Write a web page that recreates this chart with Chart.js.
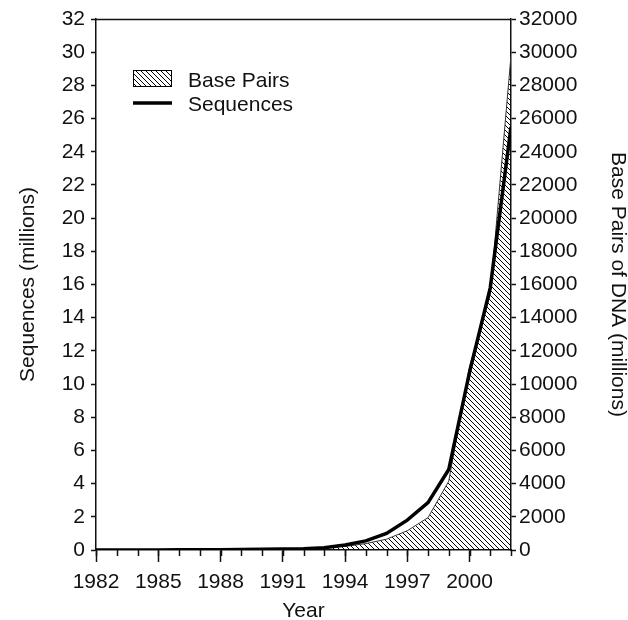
<!DOCTYPE html>
<html>
  <head>
    <meta charset="UTF-8">
    <title>GenBank Growth</title>
    <script src="https://cdn.jsdelivr.net/npm/chart.js"></script>
    <style>
      body { margin: 0; background: white; }
      #wrap { width: 628px; height: 620px; }
    </style>
  </head>
  <body>
    <div id="wrap"><canvas id="myChart"></canvas></div>

    <script>
      // data (millions)
      const years = [1982, 1983, 1984, 1985, 1986, 1987, 1988, 1989, 1990, 1991, 1992,
                     1993, 1994, 1995, 1996, 1997, 1998, 1999, 2000, 2001, 2002];
      const sequences = [0.0006, 0.0024, 0.0042, 0.0057, 0.010, 0.015, 0.021, 0.029, 0.040, 0.056, 0.079,
                         0.14, 0.3, 0.55, 1.0, 1.8, 2.85, 4.85, 10.7, 15.8, 25.5];
      const basePairs = [0.7, 2.3, 3.4, 5.2, 9.6, 15.5, 23.8, 34.8, 49.2, 71.9, 101,
                         157, 217, 385, 652, 1160, 1950, 4150, 11050, 15400, 29800];
      const xTicks = [1982, 1985, 1988, 1991, 1994, 1997, 2000];
      const seqTicks = [0, 2, 4, 6, 8, 10, 12, 14, 16, 18, 20, 22, 24, 26, 28, 30, 32];
      const bpTicks = [0, 2000, 4000, 6000, 8000, 10000, 12000, 14000, 16000, 18000, 20000,
                       22000, 24000, 26000, 28000, 30000, 32000];

      const FONT = "'Liberation Sans', Arial, sans-serif";
      const INK = '#111';

      function makeHatch() {
        const s = 5;
        const c = document.createElement('canvas');
        c.width = s; c.height = s;
        const g = c.getContext('2d');
        g.strokeStyle = '#000';
        g.lineWidth = 1;
        g.beginPath();
        g.moveTo(0, 0); g.lineTo(s, s);
        g.moveTo(-1, s - 1); g.lineTo(1, s + 1);
        g.moveTo(s - 1, -1); g.lineTo(s + 1, 1);
        g.stroke();
        return g.createPattern(c, 'repeat');
      }
      const hatch = makeHatch();

      // minor ticks on x, top frame line, legend inside plot
      const extras = {
        id: 'extras',
        afterDraw(chart) {
          const ctx = chart.ctx;
          const a = chart.chartArea;
          const x = chart.scales.x;
          ctx.save();
          ctx.strokeStyle = INK;
          ctx.lineWidth = 1.5;
          ctx.beginPath();
          years.forEach(function(yr) {
            const px = Math.round(x.getPixelForValue(yr)) + 0.5;
            ctx.moveTo(px, a.bottom);
            ctx.lineTo(px, a.bottom + 6);
          });
          ctx.moveTo(a.left, a.top + 0.5);
          ctx.lineTo(a.right, a.top + 0.5);
          ctx.stroke();

          // legend
          const ds = chart.data.datasets;
          ctx.fillStyle = hatch;
          ctx.fillRect(133, 70, 39, 17);
          ctx.lineWidth = 1;
          ctx.strokeStyle = '#000';
          ctx.strokeRect(133.5, 70.5, 38, 16);
          ctx.lineWidth = 3.5;
          ctx.beginPath();
          ctx.moveTo(133, 103);
          ctx.lineTo(172, 103);
          ctx.stroke();
          ctx.fillStyle = INK;
          ctx.font = '21px ' + FONT;
          ctx.textBaseline = 'middle';
          ctx.textAlign = 'left';
          ctx.fillText(ds[1].label, 188, 81);
          ctx.fillText(ds[0].label, 188, 105);
          ctx.restore();
        }
      };

      const ctx = document.getElementById('myChart').getContext('2d');
      const myChart = new Chart(ctx, {
        type: 'line',
        data: {
          datasets: [
            {
              label: 'Sequences',
              data: years.map((yr, i) => ({ x: yr, y: sequences[i] })),
              yAxisID: 'y',
              borderColor: '#000',
              borderWidth: 3.5,
              pointRadius: 0,
              tension: 0,
              fill: false
            },
            {
              label: 'Base Pairs',
              data: years.map((yr, i) => ({ x: yr, y: basePairs[i] })),
              yAxisID: 'y2',
              borderColor: '#333',
              borderWidth: 1,
              backgroundColor: hatch,
              pointRadius: 0,
              tension: 0,
              fill: 'origin'
            }
          ]
        },
        options: {
          responsive: true,
          maintainAspectRatio: false,
          animation: false,
          layout: { padding: { top: 19, left: 0, right: 0, bottom: 0 } },
          plugins: { legend: { display: false }, tooltip: { enabled: false } },
          scales: {
            x: {
              type: 'linear',
              position: 'bottom',
              min: 1982,
              max: 2002,
              afterBuildTicks: function(scale) {
                scale.ticks = xTicks.map(v => ({ value: v }));
              },
              afterFit: function(scale) { scale.height = 70; },
              ticks: {
                color: INK,
                font: { family: FONT, size: 21 },
                padding: 8,
                maxRotation: 0,
                callback: v => String(v)
              },
              grid: { drawOnChartArea: false, tickLength: 12, color: INK, tickWidth: 1.5 },
              border: { display: true, color: INK, width: 1.5 },
              title: {
                display: true,
                text: 'Year',
                color: INK,
                font: { family: FONT, size: 21, lineHeight: 0.85 },
                padding: 0
              }
            },
            y: {
              type: 'linear',
              position: 'left',
              min: 0,
              max: 32,
              afterBuildTicks: function(scale) {
                scale.ticks = seqTicks.map(v => ({ value: v }));
              },
              afterFit: function(scale) { scale.width = 96; },
              ticks: {
                color: INK,
                font: { family: FONT, size: 21 },
                padding: 6,
                callback: v => String(v)
              },
              grid: { drawOnChartArea: false, tickLength: 5, color: INK, tickWidth: 1.5 },
              border: { display: true, color: INK, width: 1.5 },
              title: {
                display: true,
                text: 'Sequences (millions)',
                color: INK,
                font: { family: FONT, size: 21, lineHeight: 1 },
                padding: { top: 18, bottom: 0 }
              }
            },
            y2: {
              type: 'linear',
              position: 'right',
              min: 0,
              max: 32000,
              afterBuildTicks: function(scale) {
                scale.ticks = bpTicks.map(v => ({ value: v }));
              },
              afterFit: function(scale) { scale.width = 117; },
              ticks: {
                color: INK,
                font: { family: FONT, size: 21 },
                padding: 3,
                callback: v => String(v)
              },
              grid: { drawOnChartArea: false, tickLength: 5, color: INK, tickWidth: 1.5 },
              border: { display: true, color: INK, width: 1.5 },
              title: {
                display: true,
                text: 'Base Pairs of DNA (millions)',
                color: INK,
                font: { family: FONT, size: 21, lineHeight: 1 },
                padding: { top: 0, bottom: 0 }
              }
            }
          }
        },
        plugins: [extras]
      });
    </script>
  </body>
</html>
